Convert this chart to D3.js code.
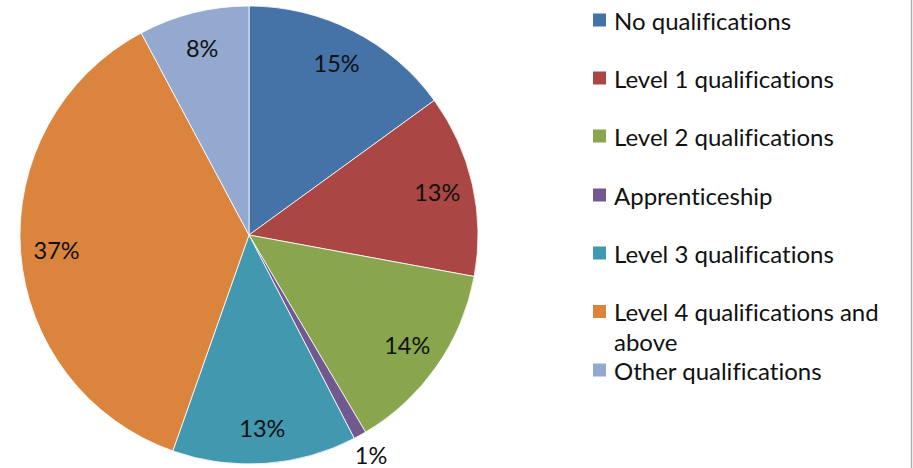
<!DOCTYPE html>
<html><head><meta charset="utf-8">
<script src="https://cdn.jsdelivr.net/npm/d3@7"></script>
<style>body{margin:0;background:#fff}svg{display:block}text{font-variant-ligatures:none}</style>
</head><body>
<svg id="c" width="913" height="468"></svg>
<script>
const categories = ["No qualifications","Level 1 qualifications","Level 2 qualifications","Apprenticeship","Level 3 qualifications","Level 4 qualifications and above","Other qualifications"];
const legendLines = [["No qualifications"],["Level 1 qualifications"],["Level 2 qualifications"],["Apprenticeship"],["Level 3 qualifications"],["Level 4 qualifications and","above"],["Other qualifications"]];
const values = [15.0, 12.9, 13.6, 0.9, 13.0, 36.8, 7.8];
const colors = ["#4572A7","#AA4643","#89A54E","#71588F","#4198AF","#DB843D","#93A9CF"];

const svg = d3.select("#c");
const font = "Lato, 'Open Sans', sans-serif";
const cx = 249, cy = 235, R = 229;
const total = d3.sum(values);
const pie = d3.pie().sort(null).value(d => d);
const arcs = pie(values);
const arc = d3.arc().innerRadius(0).outerRadius(R);
const g = svg.append("g").attr("transform", `translate(${cx},${cy})`);
g.selectAll("path").data(arcs).join("path")
  .attr("d", arc).attr("fill", (d,i) => colors[i])
  .attr("stroke", "#fff").attr("stroke-width", 0.8);

const labelArc = d3.arc().innerRadius(193).outerRadius(193);
const outArc = d3.arc().innerRadius(252).outerRadius(252);
g.selectAll("text.lbl").data(arcs).join("text")
  .attr("class","lbl")
  .attr("transform", d => {
    const p = (d.data / total < 0.03) ? outArc.centroid(d) : labelArc.centroid(d);
    return `translate(${p[0]},${p[1]})`;
  })
  .attr("text-anchor","middle").attr("dominant-baseline","central")
  .attr("font-family", font).attr("font-size", 23.5).attr("fill","#111")
  .text(d => Math.round(d.data / total * 100) + "%");

// legend
const legendY = [20, 78, 136, 195, 253, 311.5, 370];
const lg = svg.append("g");
legendLines.forEach((lines, i) => {
  lg.append("rect").attr("x", 593).attr("y", legendY[i]-6.5).attr("width", 13).attr("height", 13).attr("fill", colors[i]);
  lines.forEach((t, j) => {
    lg.append("text").attr("x", 614).attr("y", legendY[i] + j*30)
      .attr("dominant-baseline","central")
      .attr("font-family", font).attr("font-size", 24).attr("fill","#111").text(t);
  });
});
svg.append("line").attr("x1", 911.5).attr("x2", 911.5).attr("y1", 0).attr("y2", 468).attr("stroke", "#b0b0b0").attr("stroke-width", 1.5);
</script>
</body></html>
